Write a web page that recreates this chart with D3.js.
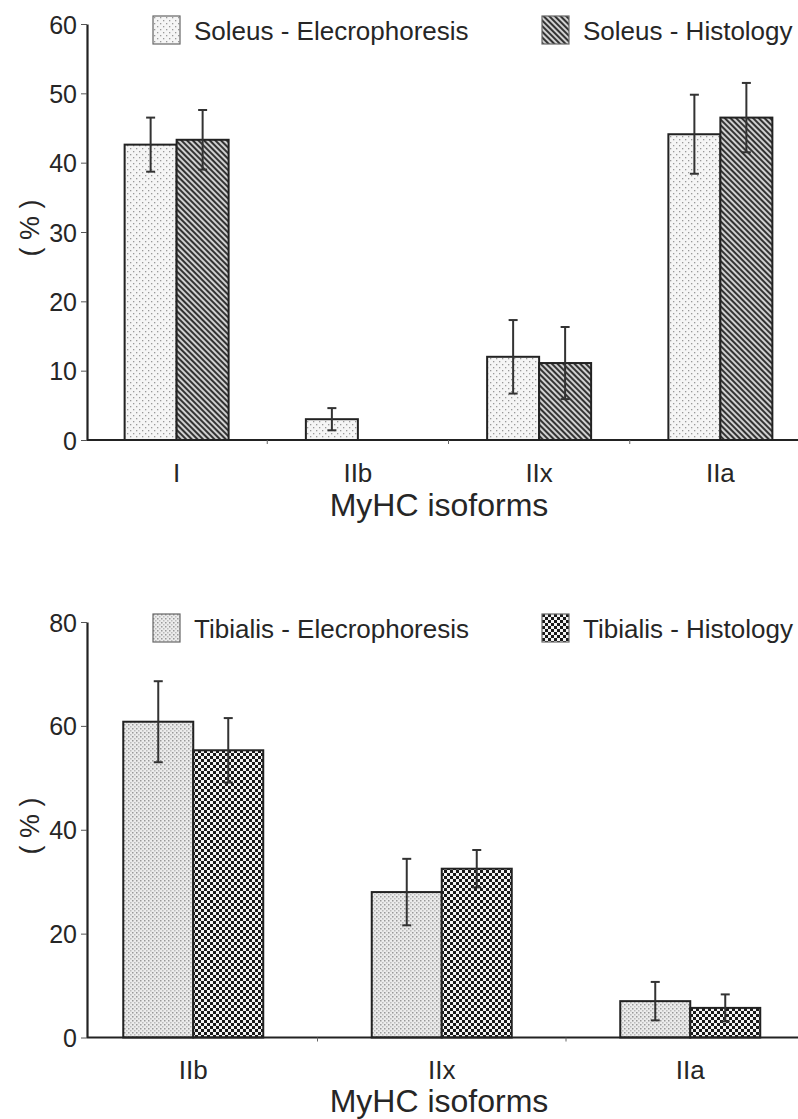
<!DOCTYPE html>
<html>
<head>
<meta charset="utf-8">
<script src="https://cdn.jsdelivr.net/npm/d3@7"></script>
<style>
  body { margin: 0; background: #fff; }
  text { font-family: "Liberation Sans", Arial, sans-serif; fill: #262626; }
</style>
</head>
<body>
<script>
// data
var soleusCats = ["I", "IIb", "IIx", "IIa"];
var soleusSeries = ["Soleus - Elecrophoresis", "Soleus - Histology"];
var soleusElectro = [42.6, 3.0, 12.0, 44.1];
var soleusElectroErr = [3.9, 1.6, 5.3, 5.7];
var soleusHisto = [43.3, 0, 11.1, 46.5];
var soleusHistoErr = [4.3, 0, 5.2, 5.0];
var soleusTicks = [0, 10, 20, 30, 40, 50, 60];

var tibCats = ["IIb", "IIx", "IIa"];
var tibSeries = ["Tibialis - Elecrophoresis", "Tibialis - Histology"];
var tibElectro = [60.8, 28.0, 7.0];
var tibElectroErr = [7.8, 6.4, 3.7];
var tibHisto = [55.3, 32.5, 5.7];
var tibHistoErr = [6.2, 3.6, 2.6];
var tibTicks = [0, 20, 40, 60, 80];

var svg = d3.select("body").append("svg")
    .attr("width", 798)
    .attr("height", 1119);

// fill patterns
var defs = svg.append("defs");

var p = defs.append("pattern").attr("id", "dotsLight")
    .attr("patternUnits", "userSpaceOnUse").attr("width", 6).attr("height", 6);
p.append("rect").attr("width", 6).attr("height", 6).attr("fill", "#f5f5f5");
p.append("rect").attr("x", 1).attr("y", 1).attr("width", 1.3).attr("height", 1.3).attr("fill", "#999");
p.append("rect").attr("x", 4).attr("y", 4).attr("width", 1.3).attr("height", 1.3).attr("fill", "#999");

p = defs.append("pattern").attr("id", "stripes")
    .attr("patternUnits", "userSpaceOnUse").attr("width", 4).attr("height", 4)
    .attr("patternTransform", "rotate(-45)");
p.append("rect").attr("width", 4).attr("height", 4).attr("fill", "#d0d0d0");
p.append("rect").attr("x", 0).attr("width", 2).attr("height", 4).attr("fill", "#333");

p = defs.append("pattern").attr("id", "dotsDense")
    .attr("patternUnits", "userSpaceOnUse").attr("width", 4).attr("height", 4);
p.append("rect").attr("width", 4).attr("height", 4).attr("fill", "#ececec");
p.append("rect").attr("x", 0).attr("y", 0).attr("width", 1.5).attr("height", 1.5).attr("fill", "#999");
p.append("rect").attr("x", 2).attr("y", 2).attr("width", 1.5).attr("height", 1.5).attr("fill", "#bbb");

p = defs.append("pattern").attr("id", "checker")
    .attr("patternUnits", "userSpaceOnUse").attr("width", 6).attr("height", 6);
p.append("rect").attr("width", 6).attr("height", 6).attr("fill", "#f4f4f4");
p.append("rect").attr("x", 0).attr("y", 0).attr("width", 3).attr("height", 3).attr("fill", "#1a1a1a");
p.append("rect").attr("x", 3).attr("y", 3).attr("width", 3).attr("height", 3).attr("fill", "#1a1a1a");

function drawPanel(opt) {
    var g = svg.append("g");

    var yScale = d3.scaleLinear().domain(opt.yDomain).range(opt.yRange);
    var x0 = d3.scaleBand().domain(opt.cats).range(opt.xRange);
    var x1 = d3.scaleBand().domain([0, 1])
        .range([0, x0.bandwidth()])
        .paddingInner(0).paddingOuter(opt.pairPad);

    var rows = opt.cats.map(function(c, i) {
        return [
            {cat: c, s: 0, v: opt.a[i], e: opt.aErr[i]},
            {cat: c, s: 1, v: opt.b[i], e: opt.bErr[i]}
        ];
    });
    var flat = [].concat.apply([], rows);
    var fills = [opt.fillA, opt.fillB];

    // bars
    g.selectAll("rect.bar")
        .data(flat.filter(function(d){ return d.v > 0; }))
        .enter()
        .append("rect")
        .attr("class", "bar")
        .attr("x", function(d){ return x0(d.cat) + x1(d.s); })
        .attr("y", function(d){ return yScale(d.v); })
        .attr("width", x1.bandwidth())
        .attr("height", function(d){ return yScale(0) - yScale(d.v); })
        .attr("fill", function(d){ return "url(#" + fills[d.s] + ")"; })
        .attr("stroke", "#222")
        .attr("stroke-width", 2);

    // error bars
    var eb = g.selectAll("g.err")
        .data(flat.filter(function(d){ return d.e > 0; }))
        .enter()
        .append("g")
        .attr("class", "err")
        .attr("stroke", "#333")
        .attr("stroke-width", 2);
    var cx = function(d){ return x0(d.cat) + x1(d.s) + x1.bandwidth() / 2; };
    eb.append("line")
        .attr("x1", cx).attr("x2", cx)
        .attr("y1", function(d){ return yScale(d.v + d.e); })
        .attr("y2", function(d){ return yScale(d.v - d.e); });
    eb.append("line")
        .attr("x1", function(d){ return cx(d) - 4.5; })
        .attr("x2", function(d){ return cx(d) + 4.5; })
        .attr("y1", function(d){ return yScale(d.v + d.e); })
        .attr("y2", function(d){ return yScale(d.v + d.e); });
    eb.append("line")
        .attr("x1", function(d){ return cx(d) - 4.5; })
        .attr("x2", function(d){ return cx(d) + 4.5; })
        .attr("y1", function(d){ return yScale(d.v - d.e); })
        .attr("y2", function(d){ return yScale(d.v - d.e); });

    // y axis
    var yAxis = d3.axisLeft(yScale).tickValues(opt.ticks).tickSize(6).tickSizeOuter(0);
    var ya = g.append("g").attr("transform", "translate(" + opt.axisX + ",0)").call(yAxis);
    ya.select(".domain").attr("stroke", "#222").attr("stroke-width", 2.2);
    ya.selectAll(".tick line").attr("stroke", "#555").attr("stroke-width", 1);
    ya.selectAll(".tick text")
        .attr("x", -10)
        .attr("dy", "0.36em")
        .style("font-size", "25px")
        .style("font-family", "'Liberation Sans', Arial, sans-serif")
        .attr("fill", "#262626");

    // x axis line with boundary ticks
    var y0 = yScale(0);
    g.append("line")
        .attr("x1", opt.axisX).attr("x2", 798)
        .attr("y1", y0).attr("y2", y0)
        .attr("stroke", "#222").attr("stroke-width", 2.2);
    var bounds = opt.cats.map(function(c){ return x0(c); })
        .filter(function(v){ return v >= opt.axisX && v < 798; });
    g.selectAll("line.xt").data(bounds).enter().append("line")
        .attr("class", "xt")
        .attr("x1", function(d){ return d; }).attr("x2", function(d){ return d; })
        .attr("y1", y0).attr("y2", y0 + 4)
        .attr("stroke", "#666").attr("stroke-width", 1);

    // category labels
    g.selectAll("text.cat").data(opt.cats).enter().append("text")
        .attr("class", "cat")
        .attr("x", function(d){ return x0(d) + x0.bandwidth() / 2; })
        .attr("y", opt.catY)
        .attr("text-anchor", "middle")
        .style("font-size", "26px")
        .text(function(d){ return d; });

    // axis titles
    g.append("text")
        .attr("x", 439).attr("y", opt.titleY)
        .attr("text-anchor", "middle")
        .style("font-size", "32px")
        .text("MyHC isoforms");
    g.append("text")
        .attr("transform", "translate(39," + opt.yLabelY + ") rotate(-90)")
        .attr("text-anchor", "middle")
        .style("font-size", "27px")
        .style("white-space", "pre")
        .text("( % )");

    // legend
    var legX = [153, 542];
    var lg = g.selectAll("g.leg").data(opt.series).enter().append("g")
        .attr("class", "leg")
        .attr("transform", function(d, i){ return "translate(" + legX[i] + "," + opt.legY + ")"; });
    lg.append("rect")
        .attr("width", 27).attr("height", 28)
        .attr("fill", function(d, i){ return "url(#" + fills[i] + ")"; })
        .attr("stroke", "#666").attr("stroke-width", 1.2);
    lg.append("text")
        .attr("x", 41).attr("y", 24)
        .style("font-size", "26px")
        .text(function(d){ return d; });
}

drawPanel({
    cats: soleusCats, series: soleusSeries,
    a: soleusElectro, aErr: soleusElectroErr,
    b: soleusHisto, bErr: soleusHistoErr,
    ticks: soleusTicks,
    yDomain: [0, 60], yRange: [440, 24],
    xRange: [86, 811], pairPad: 0.743,
    axisX: 87,
    fillA: "dotsLight", fillB: "stripes",
    catY: 482, titleY: 516, yLabelY: 228, legY: 16
});

drawPanel({
    cats: tibCats, series: tibSeries,
    a: tibElectro, aErr: tibElectroErr,
    b: tibHisto, bErr: tibHistoErr,
    ticks: tibTicks,
    yDomain: [0, 80], yRange: [1037.5, 622],
    xRange: [69, 814.5], pairPad: 0.775,
    axisX: 87,
    fillA: "dotsDense", fillB: "checker",
    catY: 1079, titleY: 1112, yLabelY: 826, legY: 614
});
</script>
</body>
</html>
